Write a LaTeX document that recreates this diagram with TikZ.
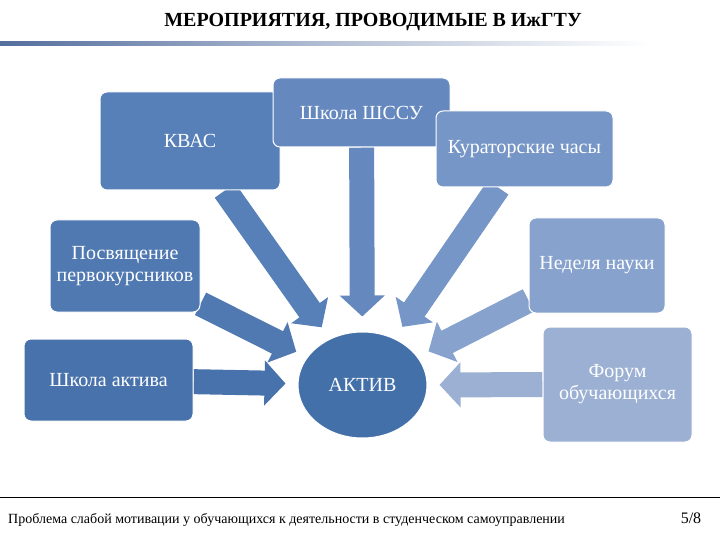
\documentclass[tikz,border=0pt]{standalone}
\usepackage{fontspec}
\setmainfont{Liberation Serif}
\usetikzlibrary{arrows.meta,positioning,shapes.geometric,backgrounds}
\definecolor{cAktiv}{RGB}{68,112,170}
\definecolor{cShkola}{RGB}{72,114,171}
\definecolor{cPosv}{RGB}{80,121,178}
\definecolor{cKvas}{RGB}{88,128,184}
\definecolor{cShssu}{RGB}{101,136,191}
\definecolor{cKurat}{RGB}{118,150,199}
\definecolor{cNedel}{RGB}{134,162,205}
\definecolor{cForum}{RGB}{155,176,211}
\definecolor{cBar}{RGB}{84,110,158}

\tikzset{
  box/.style={rectangle, rounded corners=7pt, draw=white, line width=1pt,
    text=white, align=center, inner sep=2pt,
    font=\fontsize{20}{22}\selectfont},
  blk/.style={line width=25pt, -{Triangle[length=21pt,width=44pt]},
    shorten >=12pt},
}

\begin{document}
\begin{tikzpicture}[x=1pt,y=-1pt]
  \useasboundingbox (0,0) rectangle (720,540);
  % Заголовок
  \node[font=\bfseries\fontsize{20}{22}\selectfont] (title) at (373,22)
      {МЕРОПРИЯТИЯ, ПРОВОДИМЫЕ В ИжГТУ};
  \shade[left color=cBar, right color=white, middle color=cBar!45] (0,42) rectangle (650,46);
  % Мероприятия
  \node[box, fill=cKvas, minimum width=180pt, minimum height=98pt] (kvas) at (190,141) {КВАС};
  \node[box, fill=cShssu, minimum width=177pt, minimum height=69pt] (shssu) at (361.5,112.5) {Школа ШССУ};
  \node[box, fill=cKurat, minimum width=177pt, minimum height=76pt] (kurat) at (524.5,149) {Кураторские часы};
  \node[box, fill=cPosv, minimum width=150pt, minimum height=92pt] (posv) at (125,266)
      {Посвящение\\первокурсников};
  \node[box, fill=cNedel, minimum width=136pt, minimum height=95pt] (nedel) at (597,265.5) {Неделя науки};
  \node[box, fill=cShkola, minimum width=169pt, minimum height=82pt] (shkola) at (108.5,380) {Школа актива};
  \node[box, fill=cForum, minimum width=149pt, minimum height=115pt] (forum) at (617.5,384.5)
      {Форум\\обучающихся};
  % Центр
  \node[ellipse, fill=cAktiv, draw=white, line width=1pt, text=white,
      minimum width=129pt, minimum height=106pt,
      font=\fontsize{20}{22}\selectfont] (aktiv) at (362.5,385) {АКТИВ};
  % Стрелки к активу
  \begin{scope}[on background layer]
    \draw[blk, cShkola] (shkola) -- (aktiv);
    \draw[blk, cPosv] (posv) -- (aktiv);
    \draw[blk, cKvas, shorten >=14pt] (kvas) -- (aktiv);
    \draw[blk, cShssu, shorten >=15pt] (shssu) -- (aktiv);
    \draw[blk, cKurat, shorten >=14pt] (kurat) -- (aktiv);
    \draw[blk, cNedel] (nedel) -- (aktiv);
    \draw[blk, cForum] (forum) -- (aktiv);
  \end{scope}
  % Нижний колонтитул
  \draw[line width=1pt] (0,497) -- (720,497);
  \node[anchor=west, font=\fontsize{14}{16}\selectfont, inner sep=0pt] (footer) at (8,520)
      {Проблема слабой мотивации у обучающихся к деятельности в студенческом самоуправлении};
  \node[font=\fontsize{16}{18}\selectfont] (page) at (691,518) {5/8};
\end{tikzpicture}
\end{document}
